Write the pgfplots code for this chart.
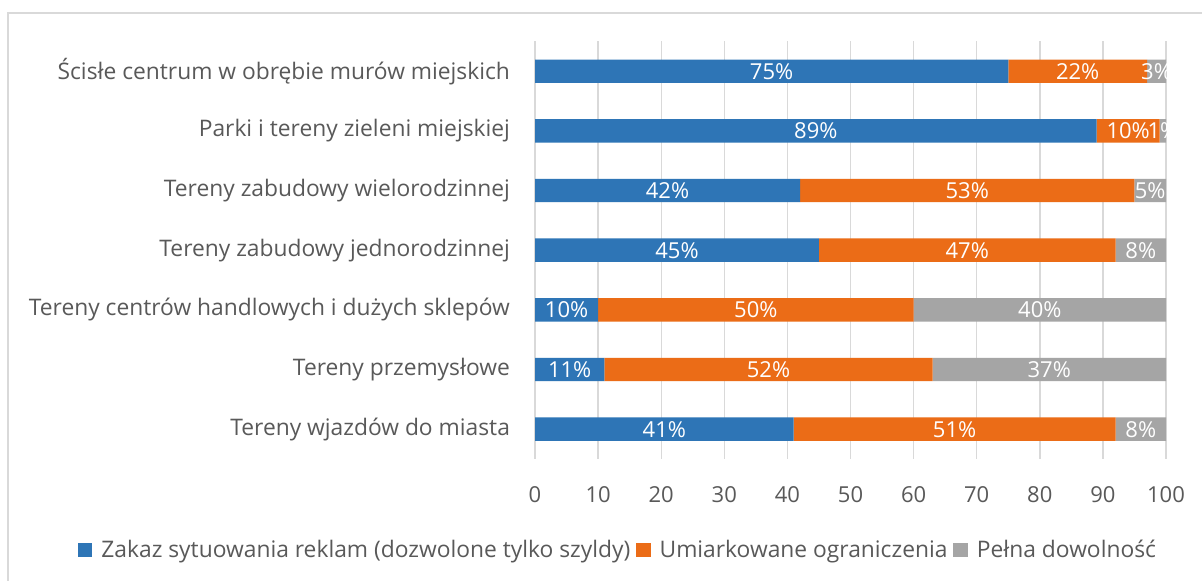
\documentclass[border=0pt]{standalone}
\usepackage{fontspec}
\setmainfont{Open Sans}
\usepackage{pgfplots}
\pgfplotsset{compat=1.18}
\definecolor{cblue}{HTML}{2E75B6}
\definecolor{corange}{HTML}{EB6C17}
\definecolor{cgray}{HTML}{A5A5A5}
\definecolor{ctext}{HTML}{595959}
\definecolor{cgrid}{HTML}{D9D9D9}
\pgfplotstableread{
y  a  b  c
0  41 51 8
1  11 52 37
2  10 50 40
3  45 47 8
4  42 53 5
5  89 10 1
6  75 22 3
}\datatable
\begin{document}
\begin{tikzpicture}
\useasboundingbox (0pt,0pt) rectangle (601pt,290.5pt);
\fill[white] (0pt,0pt) rectangle (601pt,290.5pt);
\draw[cgrid, line width=0.7pt] (4pt,0pt) -- (4pt,284pt) -- (601pt,284pt);
\begin{axis}[
  at={(267.5pt,61pt)}, anchor=south west,
  scale only axis, width=315.5pt, height=208.8pt,
  xbar stacked, bar width=11.7pt,
  xmin=0, xmax=100, ymin=-0.5, ymax=6.5,
  xtick={0,10,...,100},
  ytick={0,...,6},
  yticklabels={Tereny wjazdów do miasta, Tereny przemysłowe, Tereny centrów handlowych i dużych sklepów, Tereny zabudowy jednorodzinnej, Tereny zabudowy wielorodzinnej, Parki i tereny zieleni miejskiej, Ścisłe centrum w obrębie murów miejskich},
  axis line style={draw=none},
  major tick length=0pt,
  xmajorgrids, grid style={cgrid, line width=0.7pt},
  tick label style={text=ctext},
  /pgf/number format/assume math mode=true,
  yticklabel style={xshift=-9pt, font=\fontsize{11.4}{13}\selectfont},
  xticklabel style={yshift=-10pt, font=\fontsize{11}{13}\selectfont},
  nodes near coords={\pgfmathprintnumber{\pgfplotspointmeta}\%},
  every node near coord/.append style={font=\fontsize{11}{13}\selectfont, text=white, /pgf/number format/assume math mode=true},
  legend columns=-1,
  legend style={draw=none, at={(0.13,-0.218)}, anchor=center, font=\fontsize{11.4}{13}\selectfont, text=ctext,
    nodes={inner xsep=0pt, inner ysep=1pt},
    /tikz/every even column/.append style={column sep=3pt},
    /tikz/every odd column/.append style={column sep=4.5pt}},
  legend image code/.code={\fill[#1] (0pt,-3.6pt) rectangle (7.2pt,3.6pt);},
]
\addplot[fill=cblue, draw=none] table[x=a, y=y] {\datatable};
\addplot[fill=corange, draw=none] table[x=b, y=y] {\datatable};
\addplot[fill=cgray, draw=none] table[x=c, y=y] {\datatable};
\legend{Zakaz sytuowania reklam (dozwolone tylko szyldy), Umiarkowane ograniczenia, Pełna dowolność}
\end{axis}
\end{tikzpicture}
\end{document}
